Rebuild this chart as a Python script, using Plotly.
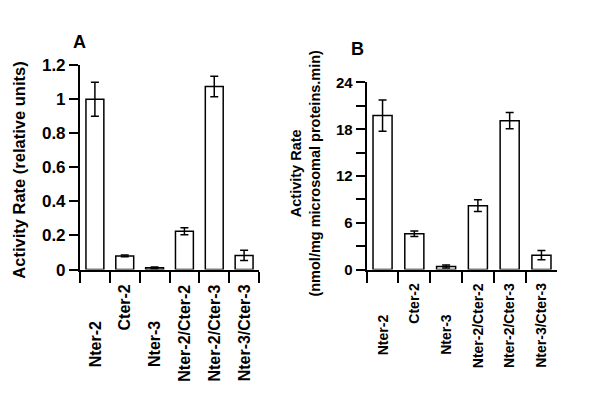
import plotly.graph_objects as go

constructs = ["Nter-2", "Cter-2", "Nter-3", "Nter-2/Cter-2", "Nter-2/Cter-3", "Nter-3/Cter-3"]

# panel A: relative activity
rel_rate = [1.0, 0.08, 0.01, 0.225, 1.075, 0.083]
rel_err = [0.10, 0.005, 0.005, 0.02, 0.06, 0.03]

# panel B: nmol/mg microsomal proteins.min
abs_rate = [19.75, 4.6, 0.4, 8.2, 19.1, 1.85]
abs_err = [2.0, 0.35, 0.2, 0.75, 1.05, 0.6]

# how each rotated label sits under the axis
label_align = ["bottom", "top", "bottom", "top", "top", "top"]

FONT = "Liberation Sans, Arial, Helvetica, sans-serif"

fig = go.Figure()

for vals, errs, ax in [(rel_rate, rel_err, ""), (abs_rate, abs_err, "2")]:
    fig.add_trace(go.Bar(
        x=constructs, y=vals, xaxis="x" + ax, yaxis="y" + ax,
        width=0.6, marker=dict(color="white", line=dict(color="black", width=1.5)),
        error_y=dict(type="data", array=errs, color="black", thickness=1.5, width=4),
        showlegend=False,
    ))

xcommon = dict(type="category", tickson="boundaries", ticks="outside", ticklen=11,
               tickwidth=1.5, tickcolor="black", showticklabels=False, showline=True,
               linecolor="black", linewidth=2, showgrid=False, zeroline=False)
ycommon = dict(ticks="outside", ticklen=9, tickwidth=1.5, tickcolor="black",
               showline=True, linecolor="black", linewidth=2, showgrid=False,
               zeroline=False, tickfont=dict(family=FONT, size=17, color="black", weight="bold"))

fig.update_layout(
    width=600, height=412,
    margin=dict(l=0, r=0, t=0, b=0),
    plot_bgcolor="white", paper_bgcolor="white",
    bargap=0.4,
    xaxis=dict(domain=[0.1333, 0.4317], anchor="y", **xcommon),
    yaxis=dict(domain=[0.337, 0.857], anchor="x", range=[0, 1.2], dtick=0.2,
               tickvals=[0, 0.2, 0.4, 0.6, 0.8, 1, 1.2],
               ticktext=["0", "0.2", "0.4", "0.6", "0.8", "1", "1.2"], **ycommon),
    xaxis2=dict(domain=[0.6111, 0.9289], anchor="y2", **xcommon),
    yaxis2=dict(domain=[0.337, 0.813], anchor="x2", range=[0, 24], dtick=6,
                minor=dict(dtick=3, ticks="outside", ticklen=9, tickwidth=1.5, tickcolor="black"),
                **ycommon),
)
fig.update_layout(yaxis2_tickfont_size=15)

bold = dict(family=FONT, color="black", weight="bold")

# rotated category labels
for ax, size, ytop, ybot in [("x", 16, 0.3034, 0.083), ("x2", 14, 0.3083, 0.114)]:
    for name, al in zip(constructs, label_align):
        fig.add_annotation(
            x=name, xref=ax, yref="paper", y=ytop if al == "top" else ybot,
            text=name, textangle=-90, showarrow=False,
            xanchor="center", yanchor=al, font=dict(size=size, **bold),
        )

# panel letters and axis titles
fig.add_annotation(x=0.1333, y=1 - 35 / 412, xref="paper", yref="paper", text="A",
                   showarrow=False, xanchor="center", yanchor="middle", font=dict(size=18, **bold))
fig.add_annotation(x=0.595, y=1 - 42 / 412, xref="paper", yref="paper", text="B",
                   showarrow=False, xanchor="center", yanchor="middle", font=dict(size=18, **bold))
fig.add_annotation(x=19 / 600, y=0.5886, xref="paper", yref="paper",
                   text="Activity Rate (relative units)", textangle=-90, showarrow=False,
                   xanchor="center", yanchor="middle", font=dict(size=16.5, **bold))
fig.add_annotation(x=305.5 / 600, y=0.5825, xref="paper", yref="paper",
                   text="Activity Rate<br>(nmol/mg microsomal proteins.min)", textangle=-90,
                   showarrow=False, xanchor="center", yanchor="middle",
                   font=dict(size=14.5, **bold))

# drop the page's default body margin so the figure sits at the window origin
fig.write_html("out.html", config={"displayModeBar": False},
               post_script="document.body.style.margin='0';")
